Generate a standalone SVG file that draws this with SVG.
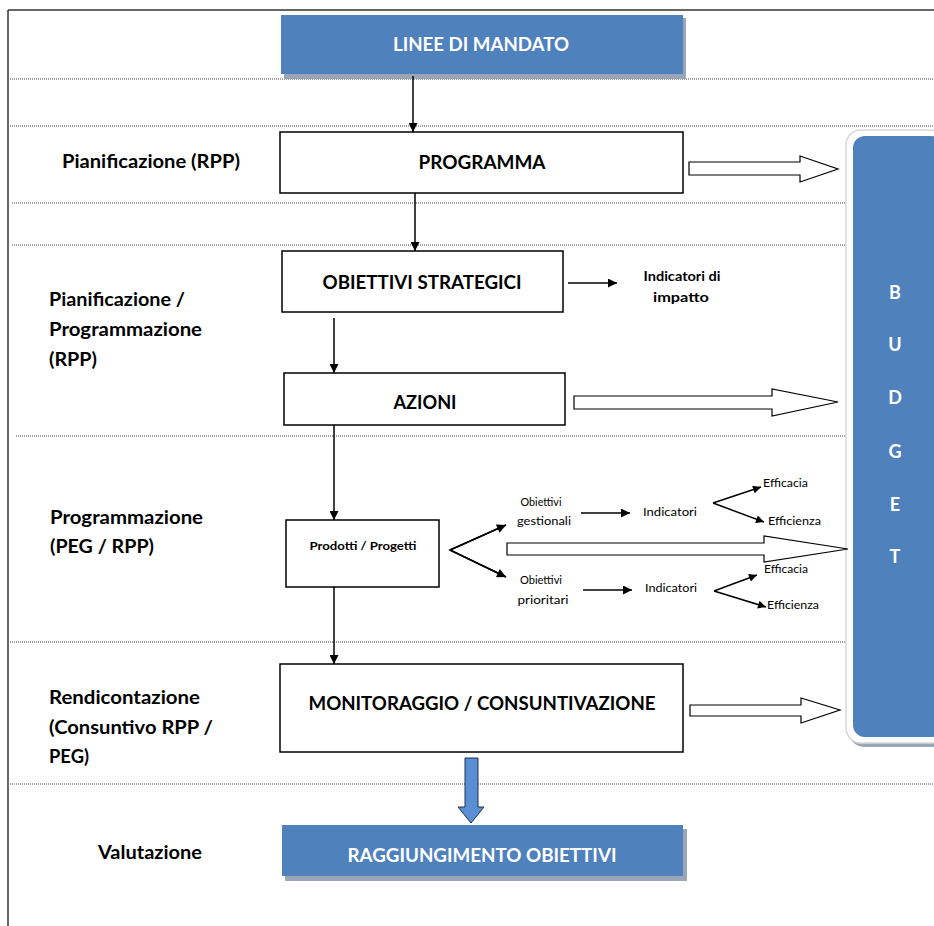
<svg xmlns="http://www.w3.org/2000/svg" width="934" height="926" viewBox="0 0 934 926">
<defs>
<marker id="ah" viewBox="0 0 10 10" refX="10" refY="5" markerWidth="10" markerHeight="9" markerUnits="userSpaceOnUse" orient="auto"><path d="M0,0 L10,5 L0,10 z" fill="#000"/></marker>
<marker id="ahs" viewBox="0 0 10 10" refX="10" refY="5" markerWidth="9" markerHeight="8" markerUnits="userSpaceOnUse" orient="auto"><path d="M0,0 L10,5 L0,10 z" fill="#000"/></marker>
</defs>
<style>
.box{fill:#fff;stroke:#000;stroke-width:1.5}
.blue{fill:#4F81BD}
.shadow{fill:#9aa6b8}
.dot{stroke:#444;stroke-width:1;stroke-dasharray:1 1;fill:none}
.frame{stroke:#333;stroke-width:1.5;fill:none}
.t{font-family:Lato,"Liberation Sans",sans-serif;font-weight:bold;fill:#000}
.tw{font-family:Lato,"Liberation Sans",sans-serif;font-weight:bold;fill:#fff}
.s{font-family:Lato,"Liberation Sans",sans-serif;font-size:12px;fill:#000}
.c{stroke:#000;stroke-width:1.5;fill:none}
.hollow{fill:#fff;stroke:#000;stroke-width:1.2}
</style>
<rect width="934" height="926" fill="#fff"/>
<g id="frame">
<line class="frame" x1="8" y1="10" x2="934" y2="10"/>
<line class="frame" x1="8" y1="10" x2="8" y2="926"/>
<line class="dot" x1="10" y1="79" x2="934" y2="79"/>
<line class="dot" x1="10" y1="126" x2="934" y2="126"/>
<line class="dot" x1="12" y1="203" x2="846" y2="203"/>
<line class="dot" x1="12" y1="245" x2="846" y2="245"/>
<line class="dot" x1="16" y1="436" x2="846" y2="436"/>
<line class="dot" x1="10" y1="642" x2="846" y2="642"/>
<line class="dot" x1="10" y1="784" x2="934" y2="784"/>
</g>
<g id="labels">
<text class="t" font-size="19" x="62" y="168" textLength="178" lengthAdjust="spacingAndGlyphs">Pianificazione (RPP)</text>
<text class="t" font-size="19" x="49" y="306" textLength="136" lengthAdjust="spacingAndGlyphs">Pianificazione /</text>
<text class="t" font-size="19" x="49" y="336" textLength="153" lengthAdjust="spacingAndGlyphs">Programmazione</text>
<text class="t" font-size="19" x="49" y="366" textLength="48" lengthAdjust="spacingAndGlyphs">(RPP)</text>
<text class="t" font-size="19" x="50" y="524" textLength="153" lengthAdjust="spacingAndGlyphs">Programmazione</text>
<text class="t" font-size="19" x="50" y="553" textLength="104" lengthAdjust="spacingAndGlyphs">(PEG / RPP)</text>
<text class="t" font-size="19" x="49" y="704" textLength="151" lengthAdjust="spacingAndGlyphs">Rendicontazione</text>
<text class="t" font-size="19" x="49" y="734" textLength="164" lengthAdjust="spacingAndGlyphs">(Consuntivo RPP /</text>
<text class="t" font-size="19" x="49" y="763" textLength="40" lengthAdjust="spacingAndGlyphs">PEG)</text>
<text class="t" font-size="19" x="98" y="859" textLength="104" lengthAdjust="spacingAndGlyphs">Valutazione</text>
</g>
<g id="budget">
<rect x="849" y="134" width="100" height="613" rx="15" fill="#9aa6b8"/>
<rect x="846" y="130" width="100" height="613" rx="15" fill="#fff" stroke="#d8d8d8" stroke-width="1.5"/>
<rect x="853" y="136" width="90" height="601" rx="12" class="blue"/>
<text class="tw" font-size="18" x="895" y="299" text-anchor="middle">B</text>
<text class="tw" font-size="18" x="895" y="351" text-anchor="middle">U</text>
<text class="tw" font-size="18" x="895" y="404" text-anchor="middle">D</text>
<text class="tw" font-size="18" x="895" y="458" text-anchor="middle">G</text>
<text class="tw" font-size="18" x="895" y="511" text-anchor="middle">E</text>
<text class="tw" font-size="18" x="895" y="563" text-anchor="middle">T</text>
</g>
<g id="linee">
<rect x="284" y="18" width="402" height="61" class="shadow"/>
<rect x="281" y="15" width="402" height="59" class="blue"/>
<text class="tw" font-size="18" x="481" y="51" text-anchor="middle" textLength="176" lengthAdjust="spacingAndGlyphs">LINEE DI MANDATO</text>
</g>
<g id="programma">
<rect x="280" y="132" width="403" height="61" class="box"/>
<text class="t" font-size="18" x="482" y="169" text-anchor="middle" textLength="127" lengthAdjust="spacingAndGlyphs">PROGRAMMA</text>
</g>
<g id="obiettivi-strategici">
<rect x="282" y="251" width="281" height="61" class="box"/>
<text class="t" font-size="18" x="422" y="289" text-anchor="middle" textLength="199" lengthAdjust="spacingAndGlyphs">OBIETTIVI STRATEGICI</text>
</g>
<g id="indicatori-impatto">
<text class="t" font-size="13" x="682" y="281" text-anchor="middle" textLength="77" lengthAdjust="spacingAndGlyphs">Indicatori di</text>
<text class="t" font-size="13" x="681" y="302" text-anchor="middle" textLength="56" lengthAdjust="spacingAndGlyphs">impatto</text>
</g>
<g id="azioni">
<rect x="284" y="373" width="281" height="52" class="box"/>
<text class="t" font-size="18" x="425" y="409" text-anchor="middle" textLength="63" lengthAdjust="spacingAndGlyphs">AZIONI</text>
</g>
<g id="prodotti">
<rect x="286" y="520" width="153" height="67" class="box"/>
<text class="t" font-size="11" x="363" y="550" text-anchor="middle" textLength="107" lengthAdjust="spacingAndGlyphs">Prodotti / Progetti</text>
</g>
<g id="obiettivi-gestionali">
<text class="s" x="541" y="506" text-anchor="middle" textLength="41" lengthAdjust="spacingAndGlyphs">Obiettivi</text>
<text class="s" x="544" y="525" text-anchor="middle" textLength="54" lengthAdjust="spacingAndGlyphs">gestionali</text>
</g>
<g id="indicatori-1"><text class="s" x="670" y="516" text-anchor="middle" textLength="54" lengthAdjust="spacingAndGlyphs">Indicatori</text></g>
<g id="efficacia-1"><text class="s" x="763" y="487" textLength="45" lengthAdjust="spacingAndGlyphs">Efficacia</text></g>
<g id="efficienza-1"><text class="s" x="768" y="525" textLength="53" lengthAdjust="spacingAndGlyphs">Efficienza</text></g>
<g id="obiettivi-prioritari">
<text class="s" x="541" y="584" text-anchor="middle" textLength="42" lengthAdjust="spacingAndGlyphs">Obiettivi</text>
<text class="s" x="543" y="604" text-anchor="middle" textLength="51" lengthAdjust="spacingAndGlyphs">prioritari</text>
</g>
<g id="indicatori-2"><text class="s" x="671" y="592" text-anchor="middle" textLength="52" lengthAdjust="spacingAndGlyphs">Indicatori</text></g>
<g id="efficacia-2"><text class="s" x="764" y="573" textLength="44" lengthAdjust="spacingAndGlyphs">Efficacia</text></g>
<g id="efficienza-2"><text class="s" x="767" y="609" textLength="52" lengthAdjust="spacingAndGlyphs">Efficienza</text></g>
<g id="monitoraggio">
<rect x="280" y="664" width="403" height="88" class="box"/>
<text class="t" font-size="18" x="482" y="710" text-anchor="middle" textLength="347" lengthAdjust="spacingAndGlyphs">MONITORAGGIO / CONSUNTIVAZIONE</text>
</g>
<g id="raggiungimento">
<rect x="285" y="829" width="402" height="52" class="shadow"/>
<rect x="282" y="825" width="401" height="51" class="blue"/>
<text class="tw" font-size="18" x="482" y="862" text-anchor="middle" textLength="269" lengthAdjust="spacingAndGlyphs">RAGGIUNGIMENTO OBIETTIVI</text>
</g>
<g id="connectors">
<line class="c" x1="413" y1="76" x2="413" y2="132" marker-end="url(#ah)"/>
<line class="c" x1="415" y1="193" x2="415" y2="251" marker-end="url(#ah)"/>
<line class="c" x1="334" y1="318" x2="334" y2="373" marker-end="url(#ah)"/>
<line class="c" x1="334" y1="425" x2="334" y2="520" marker-end="url(#ah)"/>
<line class="c" x1="334" y1="587" x2="334" y2="664" marker-end="url(#ah)"/>
<line class="c" x1="568" y1="283" x2="617" y2="283" marker-end="url(#ah)"/>
<polyline class="c" points="506,525 450,550 506,577" fill="none"/>
<line class="c" x1="450" y1="550" x2="506" y2="525" marker-end="url(#ah)"/>
<line class="c" x1="450" y1="550" x2="506" y2="577" marker-end="url(#ah)"/>
<line class="c" x1="581" y1="513" x2="630" y2="513" marker-end="url(#ah)"/>
<line class="c" x1="583" y1="590" x2="632" y2="590" marker-end="url(#ah)"/>
<line class="c" x1="713" y1="503" x2="761" y2="487" marker-end="url(#ahs)"/>
<line class="c" x1="713" y1="503" x2="764" y2="522" marker-end="url(#ahs)"/>
<line class="c" x1="714" y1="591" x2="757" y2="575" marker-end="url(#ahs)"/>
<line class="c" x1="714" y1="591" x2="766" y2="607" marker-end="url(#ahs)"/>
<path class="hollow" d="M689,162 L800,162 L800,156 L838,169 L800,182 L800,175 L689,175 Z"/>
<path class="hollow" d="M574,396 L772,396 L772,389 L838,402 L772,416 L772,409 L574,409 Z"/>
<path class="hollow" d="M507,543 L764,543 L764,536 L848,549 L764,562 L764,555 L507,555 Z"/>
<path class="hollow" d="M690,705 L801,705 L801,698 L840,710 L801,723 L801,716 L690,716 Z"/>
<path d="M465,758 L478,758 L478,807 L484,807 L471,823 L458,807 L465,807 Z" fill="#5a8fd6" stroke="#1f3350" stroke-width="1"/>
</g>
</svg>
